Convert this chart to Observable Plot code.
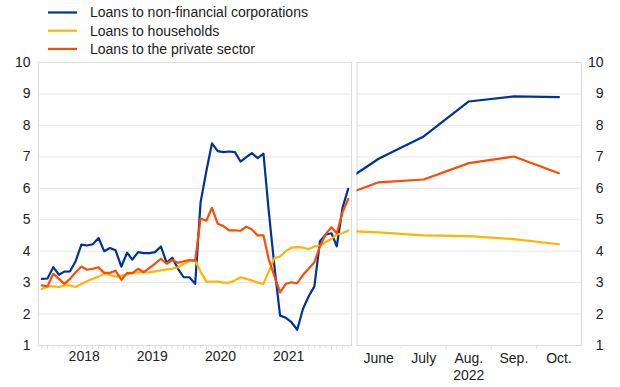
<!DOCTYPE html>
<html>
<head>
<meta charset="utf-8">
<script src="https://cdn.jsdelivr.net/npm/d3@7"></script>
<script src="https://cdn.jsdelivr.net/npm/@observablehq/plot@0.6"></script>
<style>
  html, body { margin: 0; padding: 0; background: #fff; }
  #wrap { position: relative; width: 620px; height: 387px; font-family: "Liberation Sans", Arial, sans-serif; color: #222; }
  #legend { position: absolute; left: 0; top: 0; width: 620px; height: 58px; }
  #left { position: absolute; left: 0; top: 55px; }
  #right { position: absolute; left: 354px; top: 55px; }
</style>
</head>
<body>
<div id="wrap">
  <div id="legend"></div>
  <div id="left"></div>
  <div id="right"></div>
</div>
<script>
// ---- data ----
const seriesNames = ["Loans to non-financial corporations", "Loans to households", "Loans to the private sector"];
const seriesColors = ["#003299", "#FFB400", "#FF4B00"];

// Monthly, Nov 2017 .. May 2022
const startMonth = "2017-11-01";
const nfcMonthly = [3.12, 3.13, 3.49, 3.25, 3.35, 3.36, 3.68, 4.21, 4.18, 4.22, 4.42, 4.00, 4.10, 4.03, 3.51, 3.95, 3.73, 3.97, 3.94, 3.94, 3.97, 4.15, 3.63, 3.79, 3.44, 3.17, 3.17, 2.96, 5.56, 6.55, 7.43, 7.18, 7.15, 7.17, 7.15, 6.85, 6.99, 7.12, 6.96, 7.10, 5.30, 3.50, 1.95, 1.88, 1.74, 1.50, 2.17, 2.56, 2.88, 4.32, 4.53, 4.57, 4.15, 5.38, 5.98];
const hhMonthly = [2.80, 2.88, 2.88, 2.86, 2.91, 2.91, 2.86, 2.96, 3.04, 3.12, 3.19, 3.28, 3.25, 3.19, 3.22, 3.25, 3.30, 3.33, 3.33, 3.33, 3.36, 3.39, 3.42, 3.44, 3.49, 3.60, 3.68, 3.70, 3.35, 3.03, 3.03, 3.03, 3.00, 3.00, 3.07, 3.17, 3.12, 3.07, 3.00, 2.96, 3.35, 3.78, 3.83, 4.00, 4.11, 4.13, 4.11, 4.07, 4.15, 4.18, 4.29, 4.39, 4.53, 4.57, 4.66];
const psMonthly = [2.91, 2.88, 3.28, 3.12, 2.96, 3.12, 3.33, 3.51, 3.41, 3.44, 3.49, 3.31, 3.31, 3.38, 3.09, 3.31, 3.30, 3.44, 3.33, 3.47, 3.60, 3.76, 3.60, 3.72, 3.63, 3.68, 3.72, 3.70, 5.04, 4.97, 5.38, 4.87, 4.80, 4.66, 4.66, 4.65, 4.78, 4.69, 4.50, 4.50, 3.75, 3.20, 2.69, 2.96, 3.01, 2.98, 3.25, 3.44, 3.65, 4.15, 4.55, 4.76, 4.57, 5.24, 5.66];
const yearLabels = [2018, 2019, 2020, 2021];

// Recent months 2022 (May .. Oct), panel shows June..Oct
const recentMonths = ["May", "June", "July", "Aug.\n2022", "Sep.", "Oct."];
const nfcRecent = [5.98, 6.94, 7.65, 8.76, 8.92, 8.90];
const hhRecent = [4.66, 4.60, 4.50, 4.48, 4.38, 4.22];
const psRecent = [5.66, 6.19, 6.28, 6.80, 7.01, 6.48];

const yTicks = [1, 2, 3, 4, 5, 6, 7, 8, 9, 10];

// ---- build tables ----
const start = new Date(startMonth + "T00:00:00Z");
const monthDate = i => d3.utcMonth.offset(start, i);
const leftData = [];
[nfcMonthly, hhMonthly, psMonthly].forEach((arr, s) => {
  arr.forEach((v, i) => leftData.push({date: monthDate(i), value: v, series: seriesNames[s]}));
});
const rightData = [];
[nfcRecent, hhRecent, psRecent].forEach((arr, s) => {
  arr.forEach((v, i) => rightData.push({m: i, value: v, series: seriesNames[s]}));
});

const nLeft = nfcMonthly.length;
const leftDomain = [d3.utcDay.offset(monthDate(0), -18), d3.utcDay.offset(monthDate(nLeft - 1), 18)];
const yearDates = yearLabels.map(y => new Date(Date.UTC(y, 5, 16)));
const monthTicks = d3.range(nLeft).map(monthDate);

const color = {domain: seriesNames, range: seriesColors};
const font = {fontFamily: "'Liberation Sans', Arial, sans-serif", fontSize: "14px", color: "#222", background: "transparent"};

// ---- legend ----
const legend = document.getElementById("legend");
const ns = "http://www.w3.org/2000/svg";
const lsvg = document.createElementNS(ns, "svg");
lsvg.setAttribute("width", 620); lsvg.setAttribute("height", 58);
seriesNames.forEach((name, i) => {
  const y = 12.5 + i * 18.2;
  const ln = document.createElementNS(ns, "line");
  ln.setAttribute("x1", 48); ln.setAttribute("x2", 77);
  ln.setAttribute("y1", y); ln.setAttribute("y2", y);
  ln.setAttribute("stroke", seriesColors[i]); ln.setAttribute("stroke-width", 2.2);
  lsvg.appendChild(ln);
  const t = document.createElementNS(ns, "text");
  t.setAttribute("x", 90); t.setAttribute("y", y);
  t.setAttribute("dy", "0.35em");
  t.setAttribute("font-family", "'Liberation Sans', Arial, sans-serif");
  t.setAttribute("font-size", 14); t.setAttribute("fill", "#222");
  t.textContent = name;
  lsvg.appendChild(t);
});
legend.appendChild(lsvg);

// ---- left panel ----
const left = Plot.plot({
  width: 354, height: 332,
  marginLeft: 38, marginRight: 3, marginTop: 7, marginBottom: 42,
  style: font,
  x: {type: "utc", domain: leftDomain, label: null},
  y: {domain: [1, 10], label: null},
  color,
  marks: [
    Plot.gridY(yTicks.slice(1, -1), {stroke: "#e6e6e6", strokeOpacity: 1}),
    Plot.frame({stroke: "#dcdcdc"}),
    Plot.axisY(yTicks, {label: null, tickSize: 0, tickPadding: 8, fontSize: 14, fill: "#222"}),
    Plot.axisX(monthTicks, {label: null, tickSize: 4, tickFormat: () => "", stroke: "#e0e0e0"}),
    Plot.axisX(yearDates, {label: null, tickSize: 0, tickPadding: 6, tickFormat: d => String(d.getUTCFullYear()), fontSize: 14, fill: "#222"}),
    Plot.lineY(leftData, {x: "date", y: "value", z: "series", stroke: "series", strokeWidth: 2.2})
  ]
});
document.getElementById("left").appendChild(left);

// ---- right panel ----
const right = Plot.plot({
  width: 266, height: 332,
  marginLeft: 2.5, marginRight: 39, marginTop: 7, marginBottom: 42,
  style: font,
  x: {type: "linear", domain: [0.52, 5.5], label: null},
  y: {domain: [1, 10], label: null},
  color,
  marks: [
    Plot.gridY(yTicks.slice(1, -1), {stroke: "#e6e6e6", strokeOpacity: 1}),
    Plot.frame({stroke: "#dcdcdc"}),
    Plot.axisY(yTicks, {label: null, anchor: "right", tickSize: 0, tickPadding: 0, dx: 22, textAnchor: "end", fontSize: 14, fill: "#222"}),
    Plot.axisX([1.5, 2.5, 3.5, 4.5], {label: null, tickSize: 4, tickFormat: () => "", stroke: "#e0e0e0"}),
    Plot.axisX([1, 2, 3, 4, 5], {label: null, tickSize: 0, tickPadding: 6, tickFormat: i => recentMonths[i], fontSize: 14, fill: "#222", lineHeight: 1.2}),
    Plot.lineY(rightData, {x: "m", y: "value", z: "series", stroke: "series", strokeWidth: 2.2, clip: true})
  ]
});
document.getElementById("right").appendChild(right);
</script>
</body>
</html>
